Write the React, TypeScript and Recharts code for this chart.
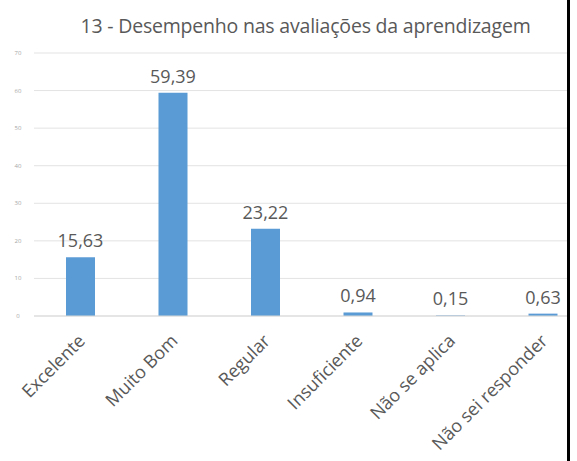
import { Bar, BarChart, CartesianGrid, LabelList, XAxis, YAxis } from 'recharts';

const categorias = [
  'Excelente',
  'Muito Bom',
  'Regular',
  'Insuficiente',
  'Não se aplica',
  'Não sei responder',
];
const percentuais = [15.63, 59.39, 23.22, 0.94, 0.15, 0.63];
const yTicks = [0, 10, 20, 30, 40, 50, 60, 70];

const titulo = '13 - Desempenho nas avaliações da aprendizagem';

const chartData = categorias.map((nome, i) => ({ nome, valor: percentuais[i] }));

const fonte = '"Open Sans", "Liberation Sans", sans-serif';
const cinza = '#595959';

function XTick({ x, y, payload }: any) {
  return (
    <text
      x={x + 6}
      y={y + 18}
      transform={`rotate(-45 ${x + 6} ${y + 18})`}
      textAnchor='end'
      fontSize={18}
      fill={cinza}
      fontFamily={fonte}
    >
      {payload.value}
    </text>
  );
}

function YTick({ y, payload }: any) {
  return (
    <text
      x={18}
      y={y + 2}
      textAnchor='middle'
      fontSize={6}
      fill='#a6a6a6'
      fontFamily={fonte}
    >
      {payload.value}
    </text>
  );
}

export default function App() {
  return (
    <div
      style={{
        position: 'absolute',
        left: 0,
        top: 0,
        width: 577,
        height: 461,
        overflow: 'hidden',
        background: '#fff',
      }}
    >
      <div
        style={{
          position: 'absolute',
          left: 0,
          top: 0,
          width: 567,
          height: 461,
          overflow: 'hidden',
        }}
      >
        <BarChart
          width={600}
          height={461}
          data={chartData}
          margin={{ top: 53, right: 11, bottom: 0, left: 0 }}
        >
          <CartesianGrid vertical={false} stroke='#e3e3e3' />
          <XAxis
            dataKey='nome'
            interval={0}
            height={145}
            tickLine={false}
            axisLine={{ stroke: '#d9d9d9' }}
            tick={<XTick />}
          />
          <YAxis
            width={34}
            domain={[0, 70]}
            ticks={yTicks}
            axisLine={false}
            tickLine={false}
            tick={<YTick />}
          />
          <Bar dataKey='valor' fill='#5b9bd5' barSize={29} isAnimationActive={false}>
            <LabelList
              dataKey='valor'
              position='top'
              offset={10}
              fontSize={18}
              fill={cinza}
              fontFamily={fonte}
              formatter={(v: any) => String(v).replace('.', ',')}
            />
          </Bar>
        </BarChart>
        <div
          style={{
            position: 'absolute',
            left: 0,
            top: 12,
            width: 611,
            textAlign: 'center',
            fontFamily: fonte,
            fontSize: 19.5,
            color: cinza,
            letterSpacing: -0.2,
          }}
        >
          {titulo}
        </div>
      </div>
      <div
        style={{
          position: 'absolute',
          left: 567,
          top: 0,
          width: 3,
          height: 461,
          background: '#000',
        }}
      />
    </div>
  );
}
